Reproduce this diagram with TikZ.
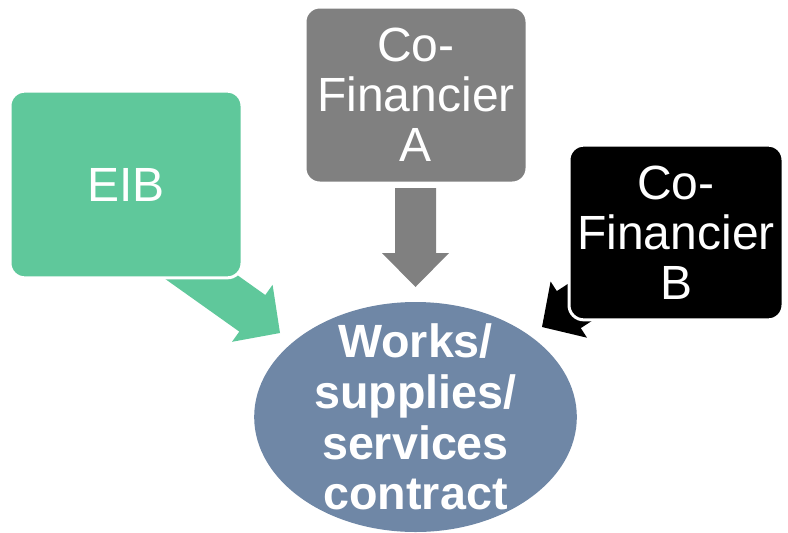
\documentclass[tikz,border=0pt]{standalone}
\usepackage{fontspec}
\setmainfont{Liberation Sans}
\usetikzlibrary{shapes.geometric}

\definecolor{eibgreen}{RGB}{95,200,155}
\definecolor{cofingrey}{RGB}{128,128,128}
\definecolor{contractblue}{RGB}{111,135,166}

\tikzset{every picture/.style={line width=0.75pt}}
\tikzset{
  finbox/.style={draw=white, line width=2.25pt, rounded corners=11pt, align=center,
    text=white, inner sep=0pt, font=\fontsize{36}{37.5}\selectfont},
  blockarrow/.style={draw=none}
}

\begin{document}
\begin{tikzpicture}[x=0.75pt,y=0.75pt,yscale=-1,xscale=1]
\useasboundingbox (0,0) rectangle (788,532);

%Shape: Right Arrow [id:eib-arrow]
\draw  [blockarrow, fill=eibgreen] (183.8,237.1) -- (265.3,295) -- (272.6,284.8) -- (280,333) -- (232,341.8) -- (239.3,331.6) -- (157.8,273.7) -- cycle ;
%Shape: Down Arrow [id:cofina-arrow]
\draw  [blockarrow, fill=cofingrey] (395,188) -- (436,188) -- (436,253) -- (449,253) -- (415.5,287) -- (382,253) -- (395,253) -- cycle ;
%Shape: Left Arrow [id:cofinb-arrow]
\draw  [blockarrow, fill=black] (640.7,236.7) -- (556.8,291.1) -- (550.6,281.5) -- (542,327) -- (587,337.7) -- (580.8,328.1) -- (664.7,273.7) -- cycle ;

%Shape: Rounded Rectangle [id:eib]
\node [finbox, fill=eibgreen, minimum width=174pt, minimum height=140pt] (eib) at (126,184.5) {EIB};
%Shape: Rounded Rectangle [id:cofina]
\node [finbox, fill=cofingrey, minimum width=166.5pt, minimum height=132pt] (cofina) at (416,95) {Co-\\Financier\\A};
%Shape: Rounded Rectangle [id:cofinb]
\node [finbox, fill=black, minimum width=160.5pt, minimum height=131pt] (cofinb) at (676,232.5) {Co-\\Financier\\B};

%Shape: Ellipse [id:contract]
\node [ellipse, fill=contractblue, inner sep=0pt, minimum width=242pt, minimum height=172.5pt] (contract) at (415.5,417) {};
% Text Node
\node [align=center, text=white, font=\bfseries\fontsize{35}{38}\selectfont] (contractlabel) at (contract.center) {Works/\\supplies/\\services\\contract};

\end{tikzpicture}
\end{document}
